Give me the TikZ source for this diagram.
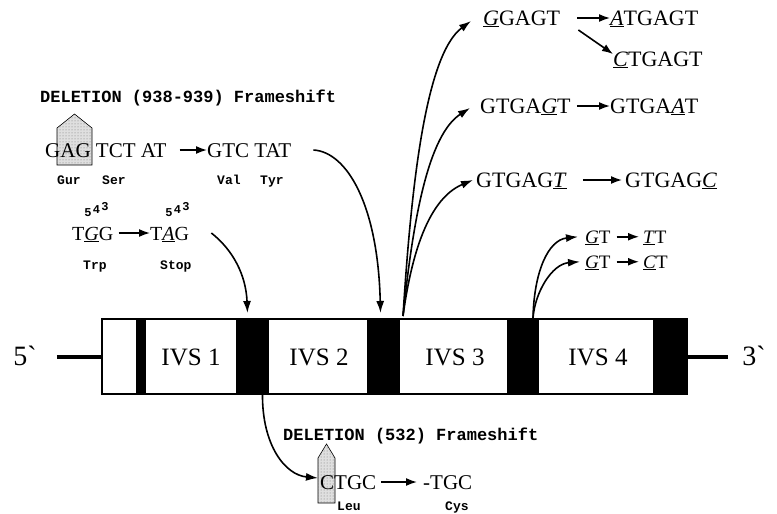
\documentclass[tikz,border=0pt]{standalone}
\usepackage{fontspec}
\setmainfont{Liberation Serif}
\setmonofont{Liberation Mono}
\usetikzlibrary{arrows.meta,patterns}
\newcommand\mutn[1]{\underline{\textit{#1}}}
\begin{document}
\begin{tikzpicture}[x=1pt,y=-1pt,
  seq/.style={inner sep=0pt, anchor=base west, text height=14pt, text depth=0pt, font=\fontsize{21}{21}\selectfont},
  seqb/.style={seq, font=\fontsize{22}{22}\selectfont},
  seqs/.style={inner sep=0pt, anchor=base west, text height=12.5pt, text depth=0pt, font=\fontsize{19}{19}\selectfont},
  lab/.style={inner sep=0pt, anchor=base west, font=\ttfamily\bfseries\fontsize{17}{17}\selectfont},
  aa/.style={inner sep=0pt, anchor=base west, font=\ttfamily\bfseries\fontsize{13}{13}\selectfont},
  num/.style={inner sep=0pt, font=\ttfamily\bfseries\fontsize{12}{12}\selectfont},
  bar/.style={fill=black, inner sep=0pt, outer sep=0pt, minimum height=75pt},
  ivs/.style={inner sep=0pt, font=\fontsize{25}{25}\selectfont},
  end/.style={inner sep=0pt, font=\fontsize{28}{28}\selectfont},
  tarr/.style={line width=1.6pt, -{Latex[length=11pt,width=8pt]}},
  carr/.style={line width=1.6pt, -{Latex[length=12pt,width=8pt]}},
  box/.style={draw=black, line width=0.6pt, fill=gray!25, postaction={pattern=dots, pattern color=gray!90!black}}]
\useasboundingbox (0,0) rectangle (777,514);

% gene
\node[draw, line width=2.5pt, fill=white, inner sep=0pt, outer sep=0pt, minimum width=585pt, minimum height=75pt] (gene) at (394.5,356.5) {};
\node[bar, minimum width=10pt] (b1) at (141,356.5) {};
\node[bar, minimum width=33pt] (b2) at (252.5,356.5) {};
\node[bar, minimum width=33pt] (b3) at (383.5,356.5) {};
\node[bar, minimum width=32pt] (b4) at (523,356.5) {};
\node[bar, minimum width=34pt] (b5) at (670,356.5) {};
\node[ivs] (i1) at (191,357) {IVS 1};
\node[ivs] (i2) at (319,357) {IVS 2};
\node[ivs] (i3) at (455,357) {IVS 3};
\node[ivs] (i4) at (598,357) {IVS 4};
\node[end] (five) at (25,356) {5\textasciigrave};
\node[end] (three) at (754,356) {3\textasciigrave};
\draw[line width=4pt] ([xshift=20pt]five.east |- gene.west) -- (gene.west);
\draw[line width=4pt] (gene.east) -- ([xshift=-14pt]three.west |- gene.east);

% deletion 938-939
\node[lab] (lab1) at (40,102) {DELETION (938-939) Frameshift};
\draw[box] (57,165) -- (57,128) -- (74.5,114) -- (92,128) -- (92,165) -- cycle;
\node[seq] (s1) at (45,157) {GAG TCT AT};
\node[seq] (s2) at (207,157) {GTC TAT};
\draw[tarr] ([xshift=13pt]s1.east) -- (s2.west);
\node[aa] (gur) at (57,184) {Gur};
\node[aa] (ser) at (102,184) {Ser};
\node[aa] (val) at (217,184) {Val};
\node[aa] (tyr) at (260,184) {Tyr};

% 543
\node[seq, font=\fontsize{20}{20}\selectfont] (s3) at (72,240) {T\mutn{G}G};
\node[seq, font=\fontsize{20}{20}\selectfont] (s4) at (150,240) {T\mutn{A}G};
\draw[tarr] ([xshift=5pt]s3.east) -- (s4.west);
\node[num] (n1a) at (88,213) {5};
\node[num] (n1b) at (96.5,210) {4};
\node[num] (n1c) at (105,207) {3};
\node[num] (n2a) at (169,213) {5};
\node[num] (n2b) at (177.5,210) {4};
\node[num] (n2c) at (186,207) {3};
\node[aa] (trp) at (83,269) {Trp};
\node[aa] (stop) at (160,269) {Stop};

% IVS3 donor
\node[seqb] (s5) at (483,25) {\mutn{G}GAGT};
\node[seqb] (s6) at (610,25) {\mutn{A}TGAGT};
\node[seqb] (s7) at (613,66) {\mutn{C}TGAGT};
\draw[tarr] ([xshift=17pt]s5.east) -- (s6.west);
\draw[tarr] ([xshift=18pt,yshift=-12pt]s5.east) -- ([yshift=5pt]s7.west);
\node[seqb] (s8) at (480,113) {GTGA\mutn{G}T};
\node[seqb] (s9) at (610,113) {GTGA\mutn{A}T};
\draw[tarr] ([xshift=6pt]s8.east) -- (s9.west);
\node[seqb] (s10) at (476,187) {GTGAG\mutn{T}};
\node[seqb] (s11) at (625,187) {GTGAG\mutn{C}};
\draw[tarr] ([xshift=16pt]s10.east) -- ([xshift=-3pt]s11.west);

% IVS4 donor
\node[seqs] (s12) at (585,243) {\mutn{G}T};
\node[seqs] (s13) at (643,243) {\mutn{T}T};
\node[seqs] (s14) at (585,268) {\mutn{G}T};
\node[seqs] (s15) at (643,268) {\mutn{C}T};
\draw[tarr] ([xshift=6pt]s12.east) -- ([xshift=-4pt]s13.west);
\draw[tarr] ([xshift=6pt]s14.east) -- ([xshift=-4pt]s15.west);

% deletion 532
\node[lab] (lab2) at (283,440) {DELETION (532) Frameshift};
\draw[box] (318,503) -- (318,458) -- (326.5,444) -- (335,458) -- (335,503) -- cycle;
\node[seq] (s16) at (320,489) {CTGC};
\node[seq] (s17) at (423,489) {-TGC};
\draw[tarr] ([xshift=5pt]s16.east) -- ([xshift=-6pt]s17.west);
\node[aa] (leu) at (337,510) {Leu};
\node[aa] (cys) at (445,510) {Cys};

% curved connectors
\draw[carr] ([xshift=22pt]s2.east) .. controls (347,152) and (378,205) .. ([xshift=-3pt,yshift=6pt]b3.north);
\draw[carr] ([xshift=22pt]s4.east) .. controls (233,250) and (246,275) .. ([xshift=-5pt,yshift=6pt]b2.north);
\draw[carr] ([xshift=3pt,yshift=3pt]b3.north east) .. controls (411,190) and (425,55) .. ([xshift=-12pt,yshift=-3pt]s5.west);
\draw[carr] ([xshift=3pt,yshift=3pt]b3.north east) .. controls (413,220) and (428,135) .. ([xshift=-10pt,yshift=-2pt]s8.west);
\draw[carr] ([xshift=3pt,yshift=3pt]b3.north east) .. controls (410,265) and (425,200) .. ([xshift=-3pt]s10.west);
\draw[carr] ([xshift=10pt,yshift=1pt]b4.north) .. controls (534,272) and (548,240) .. ([xshift=-7pt]s12.west);
\draw[carr] ([xshift=10pt,yshift=1pt]b4.north) .. controls (535,292) and (552,264) .. ([xshift=-5pt]s14.west);
\draw[carr] ([xshift=10pt]b2.south) .. controls (262,445) and (285,475) .. ([xshift=-2pt,yshift=4pt]s16.west);
\end{tikzpicture}
\end{document}
